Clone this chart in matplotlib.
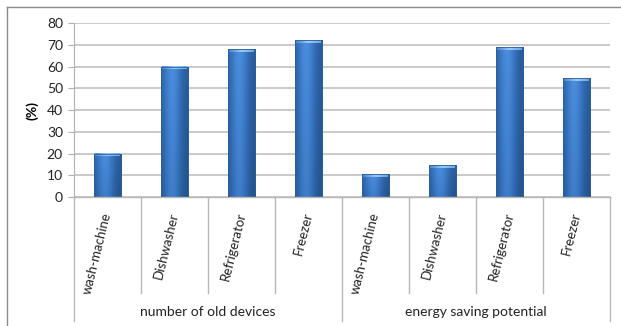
import numpy as np
import matplotlib.pyplot as plt
from matplotlib.colors import LinearSegmentedColormap
from matplotlib.patches import Rectangle
from matplotlib.lines import Line2D

# Shares of old appliances and their energy saving potential
devices = ['wash-machine', 'Dishwasher', 'Refrigerator', 'Freezer']
groups = ['number of old devices', 'energy saving potential']
old_devices = [20, 60, 68, 72]
saving_potential = [10.5, 14.5, 69, 54.5]
yticks = [0, 10, 20, 30, 40, 50, 60, 70, 80]

values = old_devices + saving_potential
labels = devices * len(groups)
x = np.arange(len(values))

plt.rcParams['font.family'] = ['Lato', 'DejaVu Sans']

fig = plt.figure(figsize=(6.21, 3.26), dpi=100)
ax = fig.add_axes([0.1192, 0.3957, 0.8631, 0.5337])

ax.set_xlim(-0.5, len(values) - 0.5)
ax.set_ylim(0, 80)
ax.set_yticks(yticks)
ax.yaxis.grid(True, color='#c0c0c0', linewidth=1.2)
ax.set_axisbelow(True)
for side in ['top', 'right', 'bottom']:
    ax.spines[side].set_visible(False)
ax.spines['left'].set_color('#b0b0b0')
ax.tick_params(axis='y', length=4, color='#b0b0b0', labelsize=10, pad=4,
               labelcolor='#222222')
ax.set_ylabel('(%)', fontsize=10, fontweight='bold', labelpad=6)

bars = ax.bar(x, values, width=0.41, color='none', edgecolor='none', zorder=2)

# shaded bar bodies: darker edges, lighter left-centre, darker bottom
prof = np.linspace(0, 1, 64)
horiz = 0.55 + 0.45 * np.exp(-((prof - 0.4) / 0.32) ** 2)
vert = np.linspace(0.85, 1.0, 64)[:, None]
shade = vert * horiz[None, :]
cmap = LinearSegmentedColormap.from_list('bar', ['#25558f', '#3672bd', '#4a8ddc'])
cap_cmap = LinearSegmentedColormap.from_list('cap', ['#4a88d0', '#9ccaf5', '#6aa6e6'])
for b in bars:
    x0, w, h = b.get_x(), b.get_width(), b.get_height()
    img = ax.imshow(shade, cmap=cmap, vmin=0.5, vmax=1.0, aspect='auto',
                    extent=(x0, x0 + w, 0, h), origin='lower', zorder=2)
    clip = Rectangle((x0, 0), w, h, transform=ax.transData)
    img.set_clip_path(clip)
    cap = 1.3
    ax.imshow(prof[None, :], cmap=cap_cmap, aspect='auto',
              extent=(x0 + 0.02, x0 + w - 0.02, h - cap, h), zorder=3)
    ax.add_patch(Rectangle((x0, 0), w, h, fill=False, edgecolor='#2d5f98',
                           linewidth=0.6, zorder=4))

ax.set_xticks(x)
ax.set_xticklabels(labels, rotation=76, rotation_mode='anchor', ha='right',
                   va='center', fontsize=9.5, color='#222222')
ax.tick_params(axis='x', length=0, pad=11)

# category and group separators below the axis
tr = ax.get_xaxis_transform()
sep_col = '#b8b8b8'
ax.add_line(Line2D([-0.5, len(values) - 0.5], [0, 0], transform=tr,
                   color=sep_col, linewidth=1, clip_on=False))
n = len(devices)
for i in range(len(values) + 1):
    depth = -0.713 if i % n == 0 else -0.552
    ax.add_line(Line2D([i - 0.5, i - 0.5], [0, depth], transform=tr,
                       color=sep_col, linewidth=1, clip_on=False))
for g, name in enumerate(groups):
    ax.text(g * n + (n - 1) / 2, -0.66, name, transform=tr, ha='center',
            va='center', fontsize=10, color='#222222')

# chart frame, clipped on the right and bottom
fig.add_artist(Line2D([7 / 621, 1], [1 - 7 / 326, 1 - 7 / 326],
                      transform=fig.transFigure, color='#8a8a8a', linewidth=1))
fig.add_artist(Line2D([7 / 621, 7 / 621], [0, 1 - 7 / 326],
                      transform=fig.transFigure, color='#8a8a8a', linewidth=1))

fig.savefig('out.png', dpi=100, facecolor='white')
